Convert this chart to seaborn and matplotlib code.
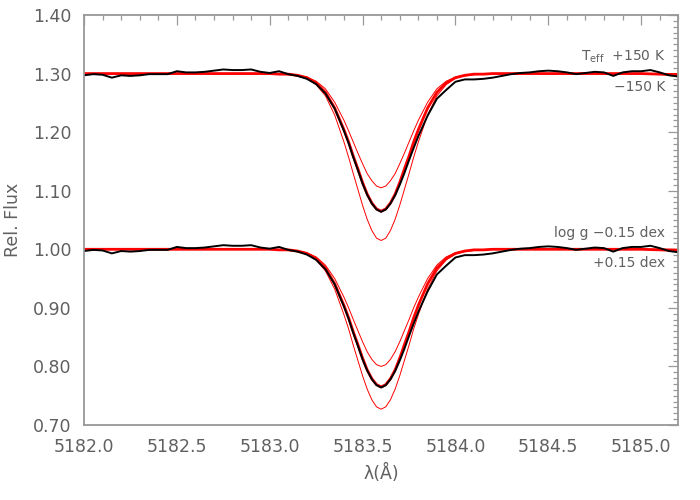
import numpy as np
import pandas as pd
import matplotlib
matplotlib.use("Agg")
import matplotlib.pyplot as plt
from matplotlib.ticker import MultipleLocator, FormatStrFormatter
import seaborn as sns

# observed spectrum (normalised); 0.05 A steps, 0.025 A through the line core
obs_wave = np.concatenate([np.linspace(5182.0, 5183.4, 29),
                           np.linspace(5183.425, 5183.8, 16),
                           np.linspace(5183.85, 5185.2, 28)])
obs_flux = [0.997, 0.999, 0.998, 0.993, 0.997, 0.996, 0.997, 0.999, 0.999, 0.999,
            1.004, 1.002, 1.002, 1.003, 1.005, 1.007, 1.006, 1.006, 1.007, 1.003,
            1.001, 1.004, 0.999, 0.996, 0.991, 0.982, 0.966, 0.940, 0.902,
            0.881, 0.857, 0.835, 0.812, 0.793, 0.778, 0.768, 0.764, 0.768, 0.778,
            0.792, 0.810, 0.830, 0.852, 0.873, 0.893,
            0.928, 0.957, 0.972, 0.986, 0.990, 0.990, 0.991, 0.993, 0.996, 0.999,
            1.001, 1.002, 1.004, 1.005, 1.004, 1.002, 0.999, 1.001, 1.003, 1.002,
            0.996, 1.002, 1.004, 1.004, 1.006, 1.002, 0.997, 0.995]

# synthetic spectra
model_wave = np.concatenate([[5182.0],
                             np.linspace(5183.0, 5183.35, 8),
                             np.linspace(5183.4, 5183.8, 17),
                             np.linspace(5183.85, 5184.2, 8),
                             [5185.0, 5185.2]])
best_fit = [1.000,
            1.000, 0.999, 0.999, 0.997, 0.993, 0.984, 0.968, 0.941,
            0.904, 0.883, 0.859, 0.837, 0.814, 0.794, 0.779, 0.769, 0.765,
            0.769, 0.779, 0.794, 0.814, 0.837, 0.859, 0.883, 0.904,
            0.941, 0.968, 0.984, 0.993, 0.997, 0.999, 0.999, 1.000,
            1.000, 0.998]
teff_plus = [1.000,
             1.000, 0.999, 0.999, 0.997, 0.994, 0.987, 0.974, 0.951,
             0.920, 0.902, 0.883, 0.864, 0.846, 0.829, 0.817, 0.808, 0.805,
             0.808, 0.817, 0.829, 0.846, 0.864, 0.883, 0.902, 0.920,
             0.951, 0.974, 0.987, 0.994, 0.997, 0.999, 0.999, 1.000,
             1.000, 1.000]
teff_minus = [1.000,
              1.000, 0.999, 0.998, 0.996, 0.992, 0.981, 0.962, 0.929,
              0.883, 0.857, 0.829, 0.802, 0.775, 0.751, 0.732, 0.719, 0.715,
              0.719, 0.732, 0.751, 0.775, 0.802, 0.829, 0.857, 0.883,
              0.929, 0.962, 0.981, 0.992, 0.996, 0.998, 0.999, 1.000,
              1.000, 1.000]
logg_minus = [1.000,
              1.000, 0.999, 0.999, 0.997, 0.994, 0.987, 0.973, 0.950,
              0.918, 0.900, 0.880, 0.861, 0.842, 0.825, 0.812, 0.803, 0.800,
              0.803, 0.812, 0.825, 0.842, 0.861, 0.880, 0.900, 0.918,
              0.950, 0.973, 0.987, 0.994, 0.997, 0.999, 0.999, 1.000,
              1.000, 1.000]
logg_plus = [1.000,
             1.000, 0.999, 0.998, 0.996, 0.992, 0.982, 0.963, 0.932,
             0.888, 0.864, 0.836, 0.810, 0.784, 0.761, 0.743, 0.731, 0.727,
             0.731, 0.743, 0.761, 0.784, 0.810, 0.836, 0.864, 0.888,
             0.932, 0.963, 0.982, 0.992, 0.996, 0.998, 0.999, 1.000,
             1.000, 1.000]

top_offset = 0.30
grey = "#606060"
axis_grey = "#999999"

sns.set_style("white")
plt.rcParams["font.family"] = ["DejaVu Sans"]
plt.rcParams["mathtext.default"] = "regular"

fig, ax = plt.subplots(figsize=(7, 5), dpi=100)
fig.subplots_adjust(left=0.12, right=0.969, bottom=0.15, top=0.97)

panels = [(top_offset, teff_plus, teff_minus), (0.0, logg_minus, logg_plus)]
for off, thin_a, thin_b in panels:
    for thin in (thin_a, thin_b):
        sns.lineplot(x=model_wave, y=np.array(thin) + off, color="red", lw=0.7,
                     estimator=None, sort=False, ax=ax)
    sns.lineplot(x=model_wave, y=np.array(best_fit) + off, color="red", lw=2.0,
                 estimator=None, sort=False, ax=ax)
    sns.lineplot(x=obs_wave, y=np.array(obs_flux) + off, color="black", lw=1.4,
                 estimator=None, sort=False, ax=ax)

ax.set_xlim(5182.0, 5185.2)
ax.set_ylim(0.70, 1.40)
ax.xaxis.set_major_locator(MultipleLocator(0.5))
ax.xaxis.set_minor_locator(MultipleLocator(0.1))
ax.yaxis.set_major_locator(MultipleLocator(0.1))
ax.yaxis.set_minor_locator(MultipleLocator(0.01))
ax.xaxis.set_major_formatter(FormatStrFormatter("%.1f"))
ax.yaxis.set_major_formatter(FormatStrFormatter("%.2f"))

ax.tick_params(which="both", direction="in", top=True, right=True,
               color=axis_grey, labelcolor=grey, labelsize=12.5, width=0.9)
ax.tick_params(which="major", length=7.5, pad=9)
ax.tick_params(which="minor", length=3.5)
for sp in ax.spines.values():
    sp.set_color(axis_grey)
    sp.set_linewidth(1.3)

ax.set_xlabel("λ(Å)", color=grey, fontsize=12.5, labelpad=6)
ax.set_ylabel("Rel. Flux", color=grey, fontsize=12.5, labelpad=8)

ax.text(5185.13, 1.328, "T$_{eff}$  +150 K", ha="right", va="center", color=grey, fontsize=10)
ax.text(5185.13, 1.277, "\u2212150 K", ha="right", va="center", color=grey, fontsize=10)
ax.text(5185.13, 1.028, "log g \u22120.15 dex", ha="right", va="center", color=grey, fontsize=10)
ax.text(5185.13, 0.977, "+0.15 dex", ha="right", va="center", color=grey, fontsize=10)

plt.savefig("out.png", dpi=100)
plt.close()
